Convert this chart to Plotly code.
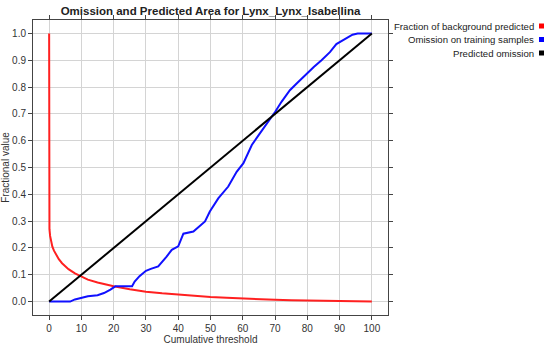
import plotly.graph_objects as go

# Data
bg_x = [0, 0, 0.1, 0.3, 0.6, 1, 1.5, 2, 3, 4, 5, 6, 8, 10, 12, 15, 18, 20, 25, 30, 35, 40,
        45, 50, 55, 60, 65, 70, 75, 80, 84, 85, 90, 95, 100]
bg_y = [1.0, 0.29, 0.27, 0.245, 0.225, 0.205, 0.19, 0.178, 0.158, 0.143, 0.131, 0.121, 0.105,
        0.092, 0.082, 0.071, 0.062, 0.057, 0.046, 0.037, 0.031, 0.026, 0.021, 0.017, 0.014,
        0.011, 0.009, 0.007, 0.005, 0.004, 0.003, 0.001, 0, 0, 0]

om_x = [0, 6.5, 8, 10, 12, 15, 17, 19, 20.5, 25.7, 26.5, 28, 30, 31.5, 33.8, 36.4, 38, 40, 41.6,
        44.7, 48.3, 49.8, 52.4, 55.5, 58.1, 60.2, 62.8, 65.3, 67.9, 70, 72, 74.6, 76.7, 79.8,
        82, 84.4, 87, 89, 92.3, 94, 95.6, 100]
om_y = [0, 0, 0.008, 0.015, 0.02, 0.024, 0.032, 0.045, 0.057, 0.057, 0.075, 0.095, 0.115, 0.122,
        0.131, 0.168, 0.193, 0.206, 0.253, 0.261, 0.299, 0.336, 0.385, 0.429, 0.484, 0.516,
        0.584, 0.627, 0.67, 0.707, 0.745, 0.788, 0.813, 0.85, 0.875, 0.9, 0.93, 0.96, 0.985,
        0.995, 1.0, 1.0]

pred_x = [0, 100]
pred_y = [0, 1]

legend_names = ["Fraction of background predicted", "Omission on training samples", "Predicted omission"]
legend_colors = ["#ff0000", "#0000ff", "#000000"]

FONT = "Liberation Sans, Arial, sans-serif"

fig = go.Figure()
fig.add_trace(go.Scatter(x=bg_x, y=bg_y, mode="lines", line=dict(color="#ff2020", width=2),
                         name=legend_names[0], showlegend=False))
fig.add_trace(go.Scatter(x=om_x, y=om_y, mode="lines", line=dict(color="#1010ff", width=2),
                         name=legend_names[1], showlegend=False))
fig.add_trace(go.Scatter(x=pred_x, y=pred_y, mode="lines", line=dict(color="#000000", width=2),
                         name=legend_names[2], showlegend=False))

W, H = 550, 346
ml, mr, mt, mb = 33, 162, 20, 31

axis_common = dict(showgrid=True, gridcolor="#d4d4d4", gridwidth=1, zeroline=False,
                   showline=True, linecolor="#444444", linewidth=1, mirror="ticks",
                   ticks="outside", ticklen=4, tickcolor="#444444",
                   tickfont=dict(family=FONT, size=10, color="#333333"))

fig.update_layout(
    width=W, height=H,
    margin=dict(l=ml, r=mr, t=mt, b=mb),
    paper_bgcolor="white", plot_bgcolor="white",
    title=dict(text="<b>Omission and Predicted Area for Lynx_Lynx_Isabellina</b>",
               x=0.5, xref="paper", xanchor="center", y=1 - 11 / H, yanchor="middle",
               font=dict(family=FONT, size=11.5, color="#222222")),
    xaxis=dict(range=[-5, 105], tick0=0, dtick=10, automargin=False,
               title=dict(text="Cumulative threshold", standoff=2,
                          font=dict(family=FONT, size=10, color="#333333")),
               **axis_common),
    yaxis=dict(range=[-0.05, 1.05], tick0=0, dtick=0.1, tickformat=".1f", automargin=False,
               title=dict(text="Fractional value", standoff=0,
                          font=dict(family=FONT, size=10, color="#333333")),
               **axis_common),
)

pw = W - ml - mr
ph = H - mt - mb
for i, (name, col) in enumerate(zip(legend_names, legend_colors)):
    ypix = 26 + i * 13.5
    yp = (H - mb - ypix) / ph
    xt = (536 - ml) / pw
    fig.add_annotation(xref="paper", yref="paper", x=xt, y=yp, text=name, showarrow=False,
                       xanchor="right", yanchor="middle",
                       font=dict(family=FONT, size=9.6, color="#222222"))
    x0 = (539 - ml) / pw
    x1 = (544 - ml) / pw
    y0 = (H - mb - (ypix - 2.5)) / ph
    y1 = (H - mb - (ypix + 2.5)) / ph
    fig.add_shape(type="rect", xref="paper", yref="paper", x0=x0, x1=x1, y0=y0, y1=y1,
                  fillcolor=col, line=dict(width=0))

fig.write_html("out.html", config={"displayModeBar": False},
               post_script="document.body.style.margin='0';")
